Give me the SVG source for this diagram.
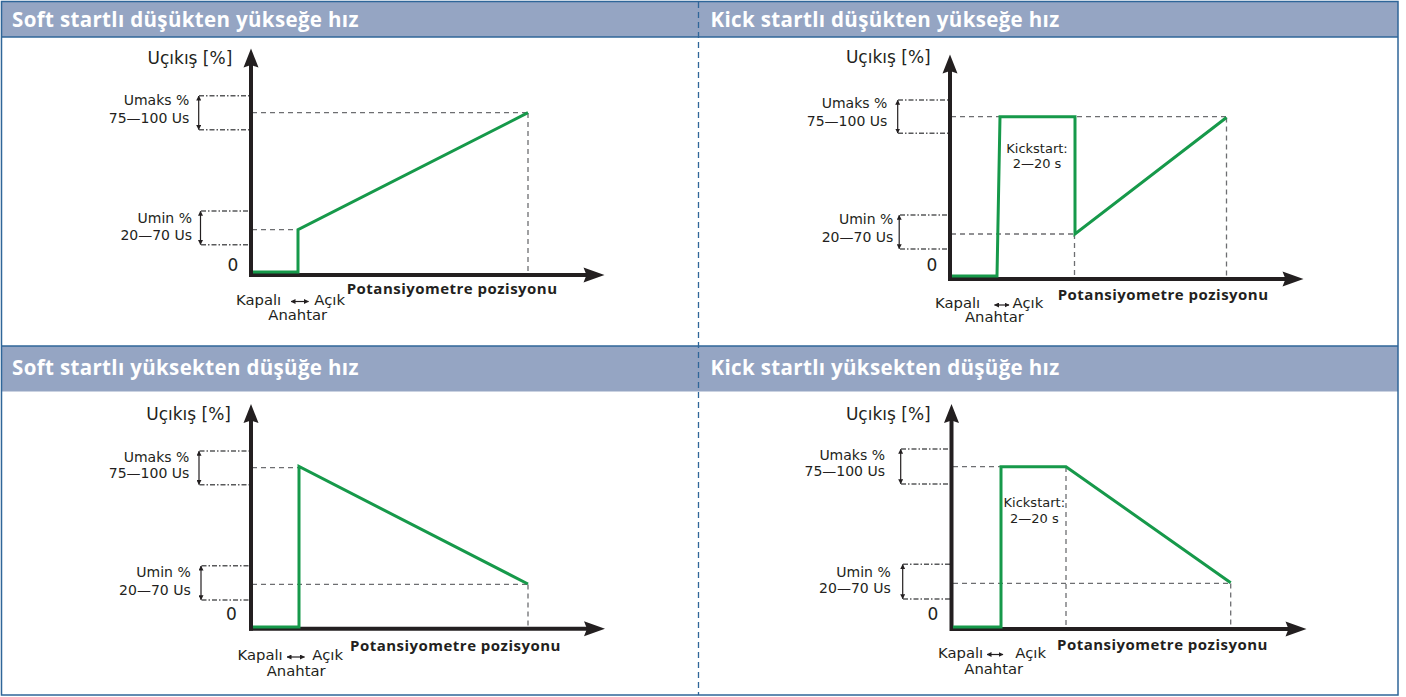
<svg xmlns="http://www.w3.org/2000/svg" width="1406" height="697" viewBox="0 0 1406 697">
  <style>
    .frame { fill: none; stroke: #2f6699; stroke-width: 1.5; }
    .hdr { fill: #95a5c3; }
    .hline { stroke: #2f6699; stroke-width: 1.5; }
    .divider { stroke: #2f6699; stroke-width: 1.3; stroke-dasharray: 6 4; }
    .htxt { font-family: "Open Sans", "DejaVu Sans", sans-serif; font-weight: 700; font-size: 20.5px; letter-spacing: 0.35px; fill: #ffffff; }
    .axis { stroke: #231f20; stroke-width: 4; fill: none; }
    .head { fill: #231f20; }
    .curve { stroke: #16994a; stroke-width: 3; fill: none; stroke-linejoin: miter; }
    .lvl { stroke: #6d6e71; stroke-width: 1.3; stroke-dasharray: 5 4; fill: none; }
    .box { stroke: #58595b; stroke-width: 1.4; stroke-dasharray: 5 2 1.5 2; fill: none; }
    .darr { stroke: #231f20; stroke-width: 1.2; fill: none; marker-start: url(#tip); marker-end: url(#tip); }
    .t { font-family: "DejaVu Sans", sans-serif; fill: #231f20; }
    .ylab { font-size: 17px; }
    .rng { font-size: 14px; }
    .zero { font-size: 17px; }
    .sw { font-size: 14.8px; }
    .ks { font-size: 13px; }
    .xlab { font-family: "Open Sans", "DejaVu Sans", sans-serif; font-weight: 700; font-size: 15px; letter-spacing: 0.48px; fill: #231f20; }
  </style>
  <defs>
    <marker id="tip" viewBox="0 0 10 10" refX="9" refY="5" markerWidth="5" markerHeight="5" markerUnits="userSpaceOnUse" orient="auto-start-reverse">
      <path d="M0,0 L10,5 L0,10 Z" fill="#231f20"/>
    </marker>
    <!-- axis arrowheads, tip at origin -->
    <path id="upHead" d="M0,0 L7.5,19 L0,16.5 L-7.5,19 Z"/>
    <path id="rightHead" d="M0,0 L-21,-7.5 L-18,0 L-21,7.5 Z"/>
  </defs>

  <!-- frame and section headers -->
  <g id="frame">
    <rect class="hdr" x="1.5" y="1.5" width="1396.5" height="35.5"/>
    <rect class="hdr" x="1.5" y="346" width="1396.5" height="45.5"/>
    <line class="hline" x1="1.5" y1="37" x2="1398" y2="37"/>
    <line class="hline" x1="1.5" y1="346" x2="1398" y2="346"/>
    <line class="divider" x1="698.5" y1="2" x2="698.5" y2="695"/>
    <rect class="frame" x="1.5" y="1.5" width="1396.5" height="693.5"/>
    <text class="htxt" x="12" y="27">Soft startlı düşükten yükseğe hız</text>
    <text class="htxt" x="710.5" y="27">Kick startlı düşükten yükseğe hız</text>
    <text class="htxt" x="12" y="375">Soft startlı yüksekten düşüğe hız</text>
    <text class="htxt" x="710.5" y="375">Kick startlı yüksekten düşüğe hız</text>
  </g>

  <!-- soft start, low to high -->
  <g id="soft-up">
    <line class="box" x1="199" y1="95.7" x2="250" y2="95.7"/>
    <line class="box" x1="199" y1="129.7" x2="250" y2="129.7"/>
    <line class="darr" x1="198.7" y1="96" x2="198.7" y2="129.5"/>
    <line class="box" x1="201" y1="211" x2="250" y2="211"/>
    <line class="box" x1="201" y1="244.7" x2="250" y2="244.7"/>
    <line class="darr" x1="200.5" y1="211.3" x2="200.5" y2="244.5"/>
    <path class="lvl" d="M252,112.7 H528 M528,113 V274 M252,229.7 H298"/>
    <line class="axis" x1="251" y1="277" x2="251" y2="63"/>
    <use class="head" href="#upHead" x="251" y="48.5"/>
    <line class="axis" x1="249" y1="275" x2="588" y2="275"/>
    <use class="head" href="#rightHead" x="604.5" y="275"/>
    <path class="curve" d="M253,272 H298 V229.7 L528,112.7"/>
    <text class="t ylab" x="232.3" y="63.5" text-anchor="end">Uçıkış [%]</text>
    <text class="t rng" x="189.3" y="105" text-anchor="end">Umaks %</text>
    <text class="t rng" x="189.3" y="122.7" text-anchor="end">75—100 Us</text>
    <text class="t rng" x="192" y="222.7" text-anchor="end">Umin %</text>
    <text class="t rng" x="192" y="239.7" text-anchor="end">20—70 Us</text>
    <text class="t zero" x="233" y="270.7" text-anchor="middle">0</text>
    <text class="xlab" x="346.7" y="294.3">Potansiyometre pozisyonu</text>
    <text class="t sw" x="236" y="305">Kapalı</text>
    <line class="darr" x1="291" y1="301.5" x2="308.5" y2="301.5"/>
    <text class="t sw" x="345" y="305" text-anchor="end">Açık</text>
    <text class="t sw" x="268.3" y="319.6">Anahtar</text>
  </g>

  <!-- kick start, low to high -->
  <g id="kick-up">
    <line class="box" x1="898" y1="100" x2="949" y2="100"/>
    <line class="box" x1="898" y1="133.3" x2="949" y2="133.3"/>
    <line class="darr" x1="897.7" y1="100.3" x2="897.7" y2="133"/>
    <line class="box" x1="900" y1="215" x2="949" y2="215"/>
    <line class="box" x1="900" y1="249" x2="949" y2="249"/>
    <line class="darr" x1="899.2" y1="215.3" x2="899.2" y2="248.7"/>
    <path class="lvl" d="M951,116.7 H1226.5 M1226.5,117.5 V278 M951,234 H1075 M1074.5,234 V278"/>
    <line class="axis" x1="950" y1="281" x2="950" y2="69"/>
    <use class="head" href="#upHead" x="950" y="54.5"/>
    <line class="axis" x1="948" y1="279" x2="1287" y2="279"/>
    <use class="head" href="#rightHead" x="1303.5" y="279"/>
    <path class="curve" d="M952,276 H997 L1000,116.7 H1075 V234 L1226.5,117.5"/>
    <text class="t ylab" x="930.7" y="63.3" text-anchor="end">Uçıkış [%]</text>
    <text class="t rng" x="887.3" y="108.3" text-anchor="end">Umaks %</text>
    <text class="t rng" x="887.3" y="125.7" text-anchor="end">75—100 Us</text>
    <text class="t rng" x="893.3" y="224.3" text-anchor="end">Umin %</text>
    <text class="t rng" x="893.3" y="242.3" text-anchor="end">20—70 Us</text>
    <text class="t zero" x="932" y="271" text-anchor="middle">0</text>
    <text class="t ks" x="1037" y="153.3" text-anchor="middle">Kickstart:</text>
    <text class="t ks" x="1037" y="168.3" text-anchor="middle">2—20 s</text>
    <text class="xlab" x="1057.7" y="300">Potansiyometre pozisyonu</text>
    <text class="t sw" x="935" y="308">Kapalı</text>
    <line class="darr" x1="994.5" y1="305" x2="1009" y2="305"/>
    <text class="t sw" x="1043.3" y="308" text-anchor="end">Açık</text>
    <text class="t sw" x="965" y="322.2">Anahtar</text>
  </g>

  <!-- soft start, high to low -->
  <g id="soft-down">
    <line class="box" x1="199.5" y1="451" x2="250" y2="451"/>
    <line class="box" x1="199.5" y1="484.7" x2="250" y2="484.7"/>
    <line class="darr" x1="199" y1="451.3" x2="199" y2="484.4"/>
    <line class="box" x1="201.5" y1="565.7" x2="250" y2="565.7"/>
    <line class="box" x1="201.5" y1="600" x2="250" y2="600"/>
    <line class="darr" x1="201" y1="566" x2="201" y2="599.7"/>
    <path class="lvl" d="M252,467.7 H299 M252,584.3 H528 M528,584.5 V627"/>
    <line class="axis" x1="251" y1="630.7" x2="251" y2="419"/>
    <use class="head" href="#upHead" x="251" y="404"/>
    <line class="axis" x1="249" y1="628.7" x2="588" y2="628.7"/>
    <use class="head" href="#rightHead" x="605" y="628.7"/>
    <path class="curve" d="M253,627 H299 V466.5 L528,584"/>
    <text class="t ylab" x="231" y="420" text-anchor="end">Uçıkış [%]</text>
    <text class="t rng" x="189.3" y="461.7" text-anchor="end">Umaks %</text>
    <text class="t rng" x="189.3" y="478.3" text-anchor="end">75—100 Us</text>
    <text class="t rng" x="190.7" y="577.3" text-anchor="end">Umin %</text>
    <text class="t rng" x="190.7" y="595" text-anchor="end">20—70 Us</text>
    <text class="t zero" x="231.3" y="620" text-anchor="middle">0</text>
    <text class="xlab" x="350" y="650.5">Potansiyometre pozisyonu</text>
    <text class="t sw" x="237.5" y="660">Kapalı</text>
    <line class="darr" x1="287" y1="657" x2="304.5" y2="657"/>
    <text class="t sw" x="343" y="660" text-anchor="end">Açık</text>
    <text class="t sw" x="266.7" y="676">Anahtar</text>
  </g>

  <!-- kick start, high to low -->
  <g id="kick-down">
    <line class="box" x1="901" y1="449" x2="950" y2="449"/>
    <line class="box" x1="901" y1="484" x2="950" y2="484"/>
    <line class="darr" x1="900.7" y1="449.3" x2="900.7" y2="483.7"/>
    <line class="box" x1="903" y1="564.3" x2="950" y2="564.3"/>
    <line class="box" x1="903" y1="599" x2="950" y2="599"/>
    <line class="darr" x1="902.7" y1="564.6" x2="902.7" y2="598.7"/>
    <path class="lvl" d="M953,466.7 H1066 M1066,467 V627 M953,583.3 H1230.7 M1230.7,583.5 V627"/>
    <line class="axis" x1="951.5" y1="631" x2="951.5" y2="419"/>
    <use class="head" href="#upHead" x="951.5" y="404"/>
    <line class="axis" x1="950" y1="629" x2="1289" y2="629"/>
    <use class="head" href="#rightHead" x="1306.5" y="629"/>
    <path class="curve" d="M953,627 H1001 V466.7 H1066 L1230.7,582.7"/>
    <text class="t ylab" x="930.7" y="420" text-anchor="end">Uçıkış [%]</text>
    <text class="t rng" x="885" y="460" text-anchor="end">Umaks %</text>
    <text class="t rng" x="885" y="476" text-anchor="end">75—100 Us</text>
    <text class="t rng" x="890.7" y="576.7" text-anchor="end">Umin %</text>
    <text class="t rng" x="890.7" y="593.3" text-anchor="end">20—70 Us</text>
    <text class="t zero" x="933" y="620" text-anchor="middle">0</text>
    <text class="t ks" x="1034.3" y="506.7" text-anchor="middle">Kickstart:</text>
    <text class="t ks" x="1034.3" y="522.7" text-anchor="middle">2—20 s</text>
    <text class="xlab" x="1057" y="649.5">Potansiyometre pozisyonu</text>
    <text class="t sw" x="938" y="658">Kapalı</text>
    <line class="darr" x1="987" y1="654.5" x2="1003" y2="654.5"/>
    <text class="t sw" x="1046" y="658" text-anchor="end">Açık</text>
    <text class="t sw" x="964.3" y="673.5">Anahtar</text>
  </g>
</svg>
